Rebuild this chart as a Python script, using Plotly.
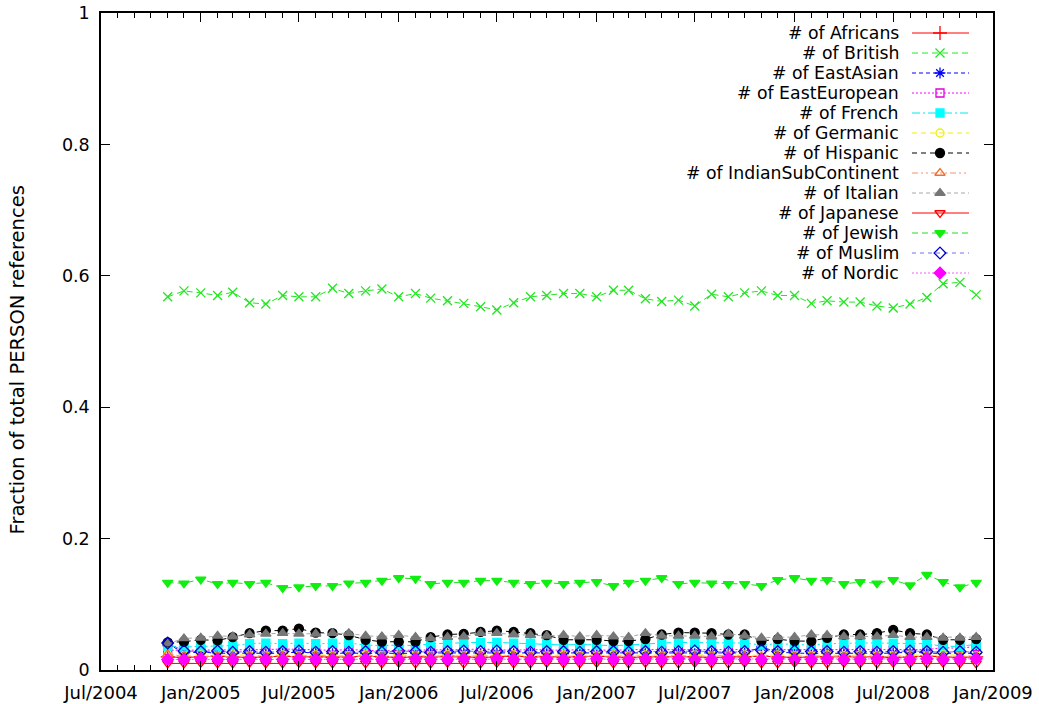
import pandas as pd
import plotly.graph_objects as go

# Monthly observations, Nov 2004 .. Dec 2008
months = pd.date_range("2004-11-01", periods=50, freq="MS")

africans = [0.020, 0.019, 0.020, 0.021, 0.020, 0.019, 0.020, 0.021, 0.020, 0.020,
            0.019, 0.020, 0.021, 0.020, 0.019, 0.020, 0.020, 0.021, 0.020, 0.019,
            0.020, 0.021, 0.020, 0.020, 0.019, 0.020, 0.021, 0.020, 0.019, 0.020,
            0.020, 0.021, 0.020, 0.019, 0.020, 0.020, 0.021, 0.020, 0.019, 0.020,
            0.020, 0.021, 0.020, 0.020, 0.019, 0.020, 0.021, 0.020, 0.019, 0.020]
british = [0.568, 0.577, 0.574, 0.570, 0.575, 0.559, 0.557, 0.570, 0.568, 0.568,
           0.581, 0.573, 0.577, 0.580, 0.568, 0.573, 0.566, 0.562, 0.558, 0.553,
           0.548, 0.559, 0.568, 0.570, 0.573, 0.573, 0.568, 0.578, 0.578, 0.565,
           0.561, 0.563, 0.554, 0.572, 0.568, 0.574, 0.577, 0.570, 0.570, 0.558,
           0.562, 0.560, 0.560, 0.554, 0.551, 0.557, 0.567, 0.588, 0.590, 0.571]
east_asian = [0.040, 0.026, 0.027, 0.026, 0.025, 0.026, 0.025, 0.026, 0.027, 0.026,
              0.025, 0.026, 0.025, 0.026, 0.025, 0.026, 0.026, 0.025, 0.026, 0.025,
              0.026, 0.025, 0.026, 0.025, 0.025, 0.026, 0.025, 0.026, 0.025, 0.026,
              0.025, 0.026, 0.025, 0.026, 0.025, 0.026, 0.035, 0.027, 0.026, 0.025,
              0.026, 0.025, 0.026, 0.025, 0.026, 0.027, 0.026, 0.025, 0.026, 0.025]
east_european = [0.030, 0.030, 0.031, 0.030, 0.031, 0.030, 0.031, 0.032, 0.031, 0.031,
                 0.030, 0.031, 0.030, 0.029, 0.030, 0.030, 0.031, 0.030, 0.031, 0.032,
                 0.031, 0.030, 0.031, 0.030, 0.030, 0.031, 0.030, 0.030, 0.031, 0.031,
                 0.030, 0.031, 0.031, 0.030, 0.031, 0.030, 0.031, 0.030, 0.031, 0.030,
                 0.031, 0.031, 0.030, 0.031, 0.030, 0.031, 0.031, 0.034, 0.033, 0.036]
french = [0.036, 0.035, 0.036, 0.036, 0.037, 0.040, 0.041, 0.040, 0.041, 0.040,
          0.041, 0.041, 0.038, 0.037, 0.038, 0.037, 0.040, 0.041, 0.041, 0.042,
          0.042, 0.041, 0.041, 0.040, 0.038, 0.039, 0.038, 0.037, 0.038, 0.040,
          0.041, 0.042, 0.042, 0.041, 0.041, 0.041, 0.038, 0.040, 0.039, 0.038,
          0.040, 0.041, 0.041, 0.041, 0.041, 0.041, 0.040, 0.036, 0.036, 0.039]
germanic = [0.023, 0.022, 0.023, 0.022, 0.023, 0.022, 0.022, 0.023, 0.022, 0.023,
            0.022, 0.022, 0.023, 0.022, 0.023, 0.022, 0.022, 0.023, 0.022, 0.023,
            0.022, 0.023, 0.022, 0.022, 0.023, 0.022, 0.022, 0.023, 0.022, 0.023,
            0.022, 0.022, 0.023, 0.022, 0.022, 0.023, 0.022, 0.023, 0.022, 0.022,
            0.023, 0.022, 0.023, 0.022, 0.022, 0.023, 0.022, 0.023, 0.022, 0.022]
hispanic = [0.042, 0.043, 0.046, 0.045, 0.050, 0.056, 0.060, 0.060, 0.063, 0.057,
            0.056, 0.053, 0.046, 0.043, 0.043, 0.043, 0.050, 0.054, 0.055, 0.058,
            0.060, 0.058, 0.056, 0.053, 0.046, 0.046, 0.046, 0.044, 0.044, 0.047,
            0.054, 0.057, 0.057, 0.056, 0.054, 0.054, 0.044, 0.047, 0.044, 0.044,
            0.049, 0.054, 0.054, 0.056, 0.061, 0.056, 0.054, 0.046, 0.046, 0.047]
indian_sub = [0.024, 0.021, 0.020, 0.021, 0.020, 0.021, 0.021, 0.020, 0.021, 0.022,
              0.021, 0.020, 0.021, 0.020, 0.021, 0.021, 0.020, 0.021, 0.020, 0.021,
              0.022, 0.021, 0.020, 0.021, 0.021, 0.020, 0.021, 0.020, 0.021, 0.020,
              0.021, 0.021, 0.020, 0.021, 0.022, 0.021, 0.020, 0.021, 0.020, 0.021,
              0.021, 0.020, 0.021, 0.021, 0.020, 0.021, 0.020, 0.021, 0.021, 0.020]
italian = [0.040, 0.048, 0.049, 0.052, 0.051, 0.054, 0.055, 0.056, 0.055, 0.055,
           0.056, 0.056, 0.052, 0.051, 0.053, 0.050, 0.048, 0.050, 0.051, 0.056,
           0.056, 0.054, 0.053, 0.052, 0.053, 0.051, 0.053, 0.051, 0.050, 0.056,
           0.052, 0.052, 0.052, 0.051, 0.055, 0.052, 0.049, 0.050, 0.050, 0.054,
           0.053, 0.051, 0.051, 0.051, 0.053, 0.050, 0.050, 0.049, 0.049, 0.050]
japanese = [0.010, 0.010, 0.011, 0.010, 0.010, 0.011, 0.010, 0.010, 0.011, 0.010,
            0.010, 0.011, 0.010, 0.010, 0.011, 0.010, 0.010, 0.011, 0.010, 0.010,
            0.011, 0.010, 0.010, 0.011, 0.010, 0.010, 0.011, 0.010, 0.010, 0.011,
            0.010, 0.010, 0.011, 0.010, 0.010, 0.011, 0.010, 0.010, 0.011, 0.010,
            0.010, 0.011, 0.010, 0.010, 0.011, 0.010, 0.010, 0.011, 0.010, 0.010]
jewish = [0.133, 0.132, 0.138, 0.131, 0.133, 0.131, 0.133, 0.125, 0.126, 0.128,
          0.128, 0.132, 0.133, 0.136, 0.140, 0.139, 0.131, 0.133, 0.133, 0.136,
          0.136, 0.133, 0.131, 0.133, 0.131, 0.133, 0.134, 0.128, 0.133, 0.136,
          0.140, 0.131, 0.133, 0.132, 0.131, 0.131, 0.128, 0.137, 0.140, 0.136,
          0.137, 0.131, 0.134, 0.132, 0.137, 0.129, 0.145, 0.134, 0.126, 0.133]
muslim = [0.041, 0.029, 0.028, 0.029, 0.027, 0.028, 0.027, 0.028, 0.029, 0.027,
          0.028, 0.027, 0.028, 0.027, 0.029, 0.028, 0.027, 0.028, 0.029, 0.028,
          0.029, 0.028, 0.027, 0.028, 0.028, 0.027, 0.028, 0.028, 0.027, 0.028,
          0.027, 0.028, 0.029, 0.028, 0.027, 0.028, 0.030, 0.028, 0.029, 0.028,
          0.028, 0.027, 0.028, 0.027, 0.028, 0.029, 0.028, 0.027, 0.028, 0.027]
nordic = [0.016, 0.016, 0.017, 0.016, 0.016, 0.017, 0.016, 0.016, 0.017, 0.016,
          0.016, 0.016, 0.017, 0.016, 0.016, 0.017, 0.016, 0.016, 0.017, 0.016,
          0.017, 0.016, 0.016, 0.017, 0.016, 0.016, 0.017, 0.016, 0.016, 0.017,
          0.016, 0.017, 0.016, 0.016, 0.017, 0.016, 0.016, 0.017, 0.016, 0.016,
          0.017, 0.016, 0.016, 0.017, 0.016, 0.016, 0.017, 0.016, 0.016, 0.017]

# name, values, line colour, dash, marker symbol, marker colour, marker size
series = [
    ("# of Africans", africans, "#ff0000", "solid", "cross-thin", "#ff0000", 10),
    ("# of British", british, "#22e622", "6px,4px", "x-thin", "#22e622", 9),
    ("# of EastAsian", east_asian, "#0000ff", "4px,3px", "asterisk", "#0000ff", 9),
    ("# of EastEuropean", east_european, "#ff00ff", "2px,2px", "square-open", "#e000e0", 8),
    ("# of French", french, "#00e8f0", "8px,3px,2px,3px", "square", "#00ffff", 8),
    ("# of Germanic", germanic, "#f0f000", "5px,4px", "circle-open", "#f0f000", 8),
    ("# of Hispanic", hispanic, "#000000", "5px,4px", "circle", "#000000", 9),
    ("# of IndianSubContinent", indian_sub, "#f09070", "6px,3px,2px,3px,2px,3px",
     "triangle-up-open", "#f07030", 9),
    ("# of Italian", italian, "#a8a8a8", "4px,3px", "triangle-up", "#777777", 9),
    ("# of Japanese", japanese, "#ff0000", "solid", "triangle-down-open", "#ff0000", 9),
    ("# of Jewish", jewish, "#22dd22", "6px,4px", "triangle-down", "#11ee11", 9),
    ("# of Muslim", muslim, "#7070f0", "4px,4px", "diamond-open", "#0000d0", 9),
    ("# of Nordic", nordic, "#f060f0", "2px,2px", "diamond", "#ff00ff", 9),
]

FONT = "DejaVu Sans"

fig = go.Figure()

for name, vals, lc, dash, sym, mc, ms in series:
    fig.add_trace(go.Scatter(
        x=months, y=vals, mode="lines+markers", name=name, showlegend=False,
        line=dict(color=lc, width=1, dash=dash),
        marker=dict(symbol=sym, size=ms, color=mc,
                    line=dict(color=mc, width=1.3)),
    ))

# Key drawn on an auxiliary pixel-scaled axis pair over the plot area
row_y0, row_step = 33, 20
for i, (name, vals, lc, dash, sym, mc, ms) in enumerate(series):
    yy = row_y0 + row_step * i
    fig.add_trace(go.Scatter(
        x=[912, 969], y=[yy, yy], mode="lines", xaxis="x2", yaxis="y2",
        showlegend=False, hoverinfo="skip",
        line=dict(color=lc, width=1, dash=dash),
    ))
    fig.add_trace(go.Scatter(
        x=[940], y=[yy], mode="markers", xaxis="x2", yaxis="y2",
        showlegend=False, hoverinfo="skip",
        marker=dict(symbol=sym, size=ms, color=mc, line=dict(color=mc, width=1.3)),
    ))
    fig.add_annotation(
        x=901, y=yy, xref="x2", yref="y2", text=name, showarrow=False,
        xanchor="right", yanchor="middle",
        font=dict(family=FONT, size=17.3, color="black"),
    )

fig.add_annotation(
    x=-0.0936, y=0.472, xref="paper", yref="paper",
    text="Fraction of total PERSON references", textangle=-90, showarrow=False,
    xanchor="center", yanchor="middle",
    font=dict(family=FONT, size=19.5, color="black"),
)

fig.update_layout(
    width=1039, height=704,
    margin=dict(l=101, r=46, t=13, b=34, autoexpand=False),
    paper_bgcolor="white", plot_bgcolor="white",
    font=dict(family=FONT, color="black"),
    xaxis=dict(
        type="date", range=["2004-07-01", "2009-01-01"],
        tick0="2004-07-01", dtick="M6", tickformat="%b/%Y",
        ticks="inside", ticklen=9, tickwidth=1, tickcolor="black",
        showline=True, linecolor="black", linewidth=1.5, mirror="ticks",
        showgrid=False, zeroline=False, automargin=False,
        tickfont=dict(family=FONT, size=18, color="black"),
        ticklabelstandoff=6,
        minor=dict(ticks="inside", ticklen=5, tickwidth=1, tickcolor="black",
                   dtick="M1", tick0="2004-07-01", showgrid=False),
    ),
    yaxis=dict(
        range=[0, 1], dtick=0.2, tick0=0,
        ticks="inside", ticklen=9, tickwidth=1, tickcolor="black",
        showline=True, linecolor="black", linewidth=1.5, mirror="ticks",
        showgrid=False, zeroline=False, automargin=False,
        tickfont=dict(family=FONT, size=17.5, color="black"),
        ticklabelstandoff=6,
    ),
    xaxis2=dict(range=[101, 993], overlaying="x", visible=False, fixedrange=True),
    yaxis2=dict(range=[670, 13], overlaying="y", visible=False, fixedrange=True),
)

fig.write_html("out.html")
